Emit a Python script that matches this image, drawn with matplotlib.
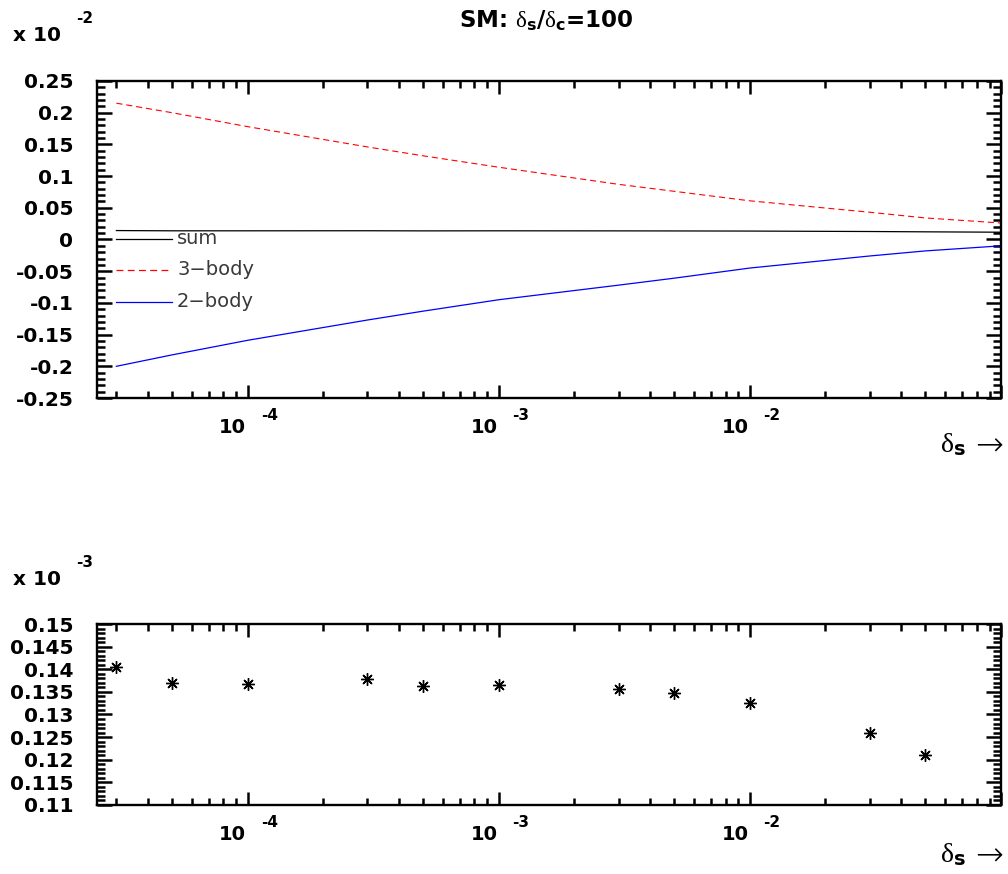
import matplotlib
matplotlib.use('Agg')
import matplotlib.pyplot as plt
from matplotlib.ticker import MultipleLocator, LogLocator, FuncFormatter, NullFormatter

# ---- data ----
delta_s = [3e-5, 5e-5, 1e-4, 3e-4, 5e-4, 1e-3, 3e-3, 5e-3, 1e-2, 3e-2, 5e-2, 1e-1]
three_body = [0.215, 0.200, 0.178, 0.146, 0.132, 0.114, 0.087, 0.076, 0.061, 0.043, 0.034, 0.026]
two_body = [-0.200, -0.182, -0.159, -0.127, -0.113, -0.095, -0.072, -0.061, -0.045, -0.026, -0.018, -0.010]
sum_top = [0.0141, 0.0137, 0.0137, 0.0138, 0.0136, 0.0137, 0.0136, 0.0135, 0.0133, 0.0126, 0.0121, 0.0115]

delta_s_pts = [3e-5, 5e-5, 1e-4, 3e-4, 5e-4, 1e-3, 3e-3, 5e-3, 1e-2, 3e-2, 5e-2]
sum_pts = [0.1406, 0.1370, 0.1367, 0.1378, 0.1363, 0.1365, 0.1357, 0.1347, 0.1325, 0.1260, 0.1210]

decades = [-4, -3, -2]
legend_labels = ['sum', '3\u2212body', '2\u2212body']

plt.rcParams['font.family'] = ['DejaVu Sans']
plt.rcParams['mathtext.fontset'] = 'custom'
plt.rcParams['mathtext.rm'] = 'Liberation Serif'
plt.rcParams['mathtext.it'] = 'Liberation Serif:italic'
plt.rcParams['mathtext.bf'] = 'DejaVu Sans:bold'

W, H = 1008, 874
fig = plt.figure(figsize=(W / 100, H / 100), dpi=100)
NUM = 14.5   # tick-label size
EXP = 11     # exponent size


def px(x, y):
    return x / W, 1 - y / H


def style_axes(ax, ymaj, ymin):
    ax.set_xscale('log')
    ax.set_xlim(10 ** -4.6, 0.1)
    ax.xaxis.set_major_locator(LogLocator(base=10, numticks=20))
    ax.xaxis.set_minor_locator(LogLocator(base=10, subs=range(2, 10), numticks=20))
    ax.xaxis.set_major_formatter(NullFormatter())
    ax.xaxis.set_minor_formatter(NullFormatter())
    ax.yaxis.set_major_locator(MultipleLocator(ymaj))
    ax.yaxis.set_minor_locator(MultipleLocator(ymin))
    ax.yaxis.set_major_formatter(FuncFormatter(lambda v, p: '%g' % round(v, 4)))
    ax.tick_params(which='both', direction='in', top=True, right=True, width=1.8)
    ax.tick_params(axis='x', which='major', length=9.7)
    ax.tick_params(axis='x', which='minor', length=5)
    ax.tick_params(axis='y', which='major', length=11, labelsize=NUM, pad=17)
    ax.tick_params(axis='y', which='minor', length=5.5)
    for lab in ax.get_yticklabels():
        lab.set_fontweight('bold')
    for s in ax.spines.values():
        s.set_linewidth(1.7)
    trans = ax.get_xaxis_transform()
    for e in decades:
        ax.annotate('10', xy=(10.0 ** e, 0), xycoords=trans, xytext=(-1.0, -25.2),
                    textcoords='offset points', ha='right', va='baseline',
                    fontsize=NUM - 0.5, fontweight='bold', annotation_clip=False)
        ax.annotate('%d' % e, xy=(10.0 ** e, 0), xycoords=trans, xytext=(9.4, -15.5),
                    textcoords='offset points', ha='left', va='baseline',
                    fontsize=EXP, fontweight='bold', annotation_clip=False)


def arrow_label(ax, dy):
    ax.annotate(r'$\mathrm{\delta}_{\mathbf{s}}$', xy=(1, 0),
                xycoords='axes fraction', xytext=(-25, dy), textcoords='offset points',
                ha='right', va='baseline', fontsize=20, annotation_clip=False)
    ax.annotate('\u2192', xy=(1, 0), xycoords='axes fraction',
                xytext=(1.4, dy - 2.5), textcoords='offset points',
                ha='right', va='baseline', fontsize=24, fontweight='light',
                annotation_clip=False)


# ---- top panel ----
ax1 = fig.add_axes([97 / W, 1 - 398 / H, 904 / W, 317 / H])
style_axes(ax1, 0.05, 0.01)
ax1.set_ylim(-0.25, 0.25)
ax1.plot(delta_s, sum_top, color='black', lw=0.9)
ax1.plot(delta_s, three_body, color='red', lw=0.8, dashes=(5.5, 3.5))
ax1.plot(delta_s, two_body, color='blue', lw=0.9)
for ls, col, lab, yy in zip([None, (5.5, 3.5), None], ['black', 'red', 'blue'],
                            legend_labels, [0.5025, 0.404, 0.304]):
    ln, = ax1.plot([0.021, 0.083], [yy, yy], color=col, lw=0.9,
                   transform=ax1.transAxes)
    if ls:
        ln.set_dashes(ls)
    ax1.text(0.0885, yy, lab, transform=ax1.transAxes, fontsize=14,
             color='#3a3a3a', va='center', ha='left')
arrow_label(ax1, -39)

# ---- bottom panel ----
ax2 = fig.add_axes([97 / W, 1 - 805 / H, 904 / W, 181 / H])
style_axes(ax2, 0.005, 0.001)
ax2.set_ylim(0.11, 0.15)
ax2.plot(delta_s_pts, sum_pts, ls='none', marker=(8, 2, 0), ms=9,
         mew=1.0, color='black')
arrow_label(ax2, -41)

# ---- scale factors and title ----
fig.text(*px(13, 41), 'x 10', fontsize=NUM, fontweight='bold', va='baseline')
fig.text(*px(76, 23), '-2', fontsize=EXP, fontweight='bold', va='baseline')
fig.text(*px(13, 585), 'x 10', fontsize=NUM, fontweight='bold', va='baseline')
fig.text(*px(76, 567), '-3', fontsize=EXP, fontweight='bold', va='baseline')
fig.text(*px(546, 28),
         r'SM: $\mathrm{\delta}_{\mathbf{s}}$/$\mathrm{\delta}_{\mathbf{c}}$=100',
         fontsize=16.5, fontweight='bold', ha='center', va='baseline')

fig.savefig('out.png', dpi=100)
